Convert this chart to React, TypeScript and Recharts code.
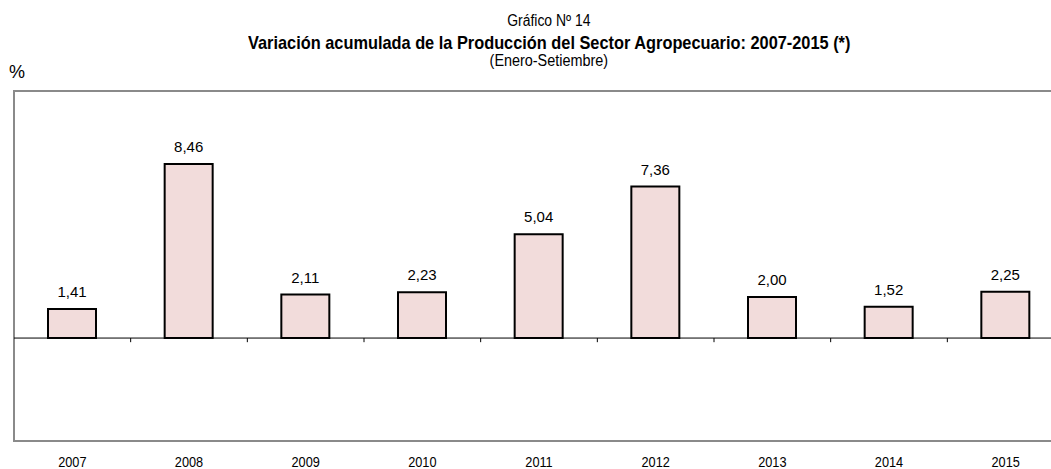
import { BarChart, Bar, XAxis, YAxis, ReferenceLine, ReferenceArea, LabelList } from "recharts";

const years = ["2007", "2008", "2009", "2010", "2011", "2012", "2013", "2014", "2015"];
const values = [1.41, 8.46, 2.11, 2.23, 5.04, 7.36, 2.0, 1.52, 2.25];
const boundaries = [0.5, 1.5, 2.5, 3.5, 4.5, 5.5, 6.5, 7.5, 8.5];

const sans = "'Liberation Sans', Arial, sans-serif";

const data = years.map((y, i) => ({ i, year: y, value: values[i] }));

function fmt(v: any) {
  return Number(v).toFixed(2).replace(".", ",");
}

// Arial Narrow is not available, so squeeze Liberation Sans horizontally
function YearTick(props: any) {
  const { x, y, payload } = props;
  return (
    <g transform={`translate(${x},${y})`}>
      <text transform="scale(0.85,1)" textAnchor="middle" dy={18} fontFamily={sans} fontSize={15} fill="#000">
        {years[payload.value]}
      </text>
    </g>
  );
}

const line = (top: number, size: number, bold = false) => ({
  position: "absolute" as const,
  left: 0,
  width: 1098,
  top,
  textAlign: "center" as const,
  lineHeight: 1,
  color: "#000",
  fontFamily: sans,
  fontSize: size,
  fontWeight: bold ? "bold" : "normal",
  whiteSpace: "nowrap" as const,
});

const squeeze = (k: number) => ({ display: "inline-block", transform: `scaleX(${k})` });

export default function App() {
  return (
    <div style={{ position: "absolute", left: 0, top: 0, width: 1051, height: 469, overflow: "hidden", background: "#fff" }}>
      <div style={line(13, 16)}><span style={squeeze(0.87)}>Gráfico Nº 14</span></div>
      <div style={line(33, 19, true)}><span style={squeeze(0.86)}>Variación acumulada de la Producción del Sector Agropecuario: 2007-2015 (*)</span></div>
      <div style={line(53, 16)}><span style={squeeze(0.9)}>(Enero-Setiembre)</span></div>
      <div style={{ position: "absolute", left: 9, top: 63, lineHeight: 1, fontFamily: sans, fontSize: 18, color: "#000" }}>%</div>
      <BarChart width={1070} height={469} data={data} margin={{ top: 91, left: 14, right: 6, bottom: 0 }}>
        <XAxis
          type="number"
          dataKey="i"
          domain={[-0.5, 8.5]}
          ticks={[0, 1, 2, 3, 4, 5, 6, 7, 8]}
          axisLine={false}
          tickLine={false}
          height={28}
          tick={<YearTick />}
        />
        <YAxis hide domain={[-5, 12]} />
        <ReferenceArea x1={-0.5} x2={8.5} y1={-5} y2={12} fill="none" stroke="#8a8a8a" strokeWidth={2} />
        <ReferenceLine y={0} stroke="#000" strokeWidth={1} />
        {boundaries.map((b) => (
          <ReferenceLine key={b} segment={[{ x: b, y: 0 }, { x: b, y: -0.2 }]} stroke="#000" strokeWidth={1} />
        ))}
        <Bar dataKey="value" barSize={48} fill="#f2dcdb" stroke="#000" strokeWidth={2} isAnimationActive={false}>
          <LabelList dataKey="value" position="top" offset={12} formatter={fmt} style={{ fontFamily: sans, fontSize: 15, fill: "#000" }} />
        </Bar>
      </BarChart>
    </div>
  );
}
